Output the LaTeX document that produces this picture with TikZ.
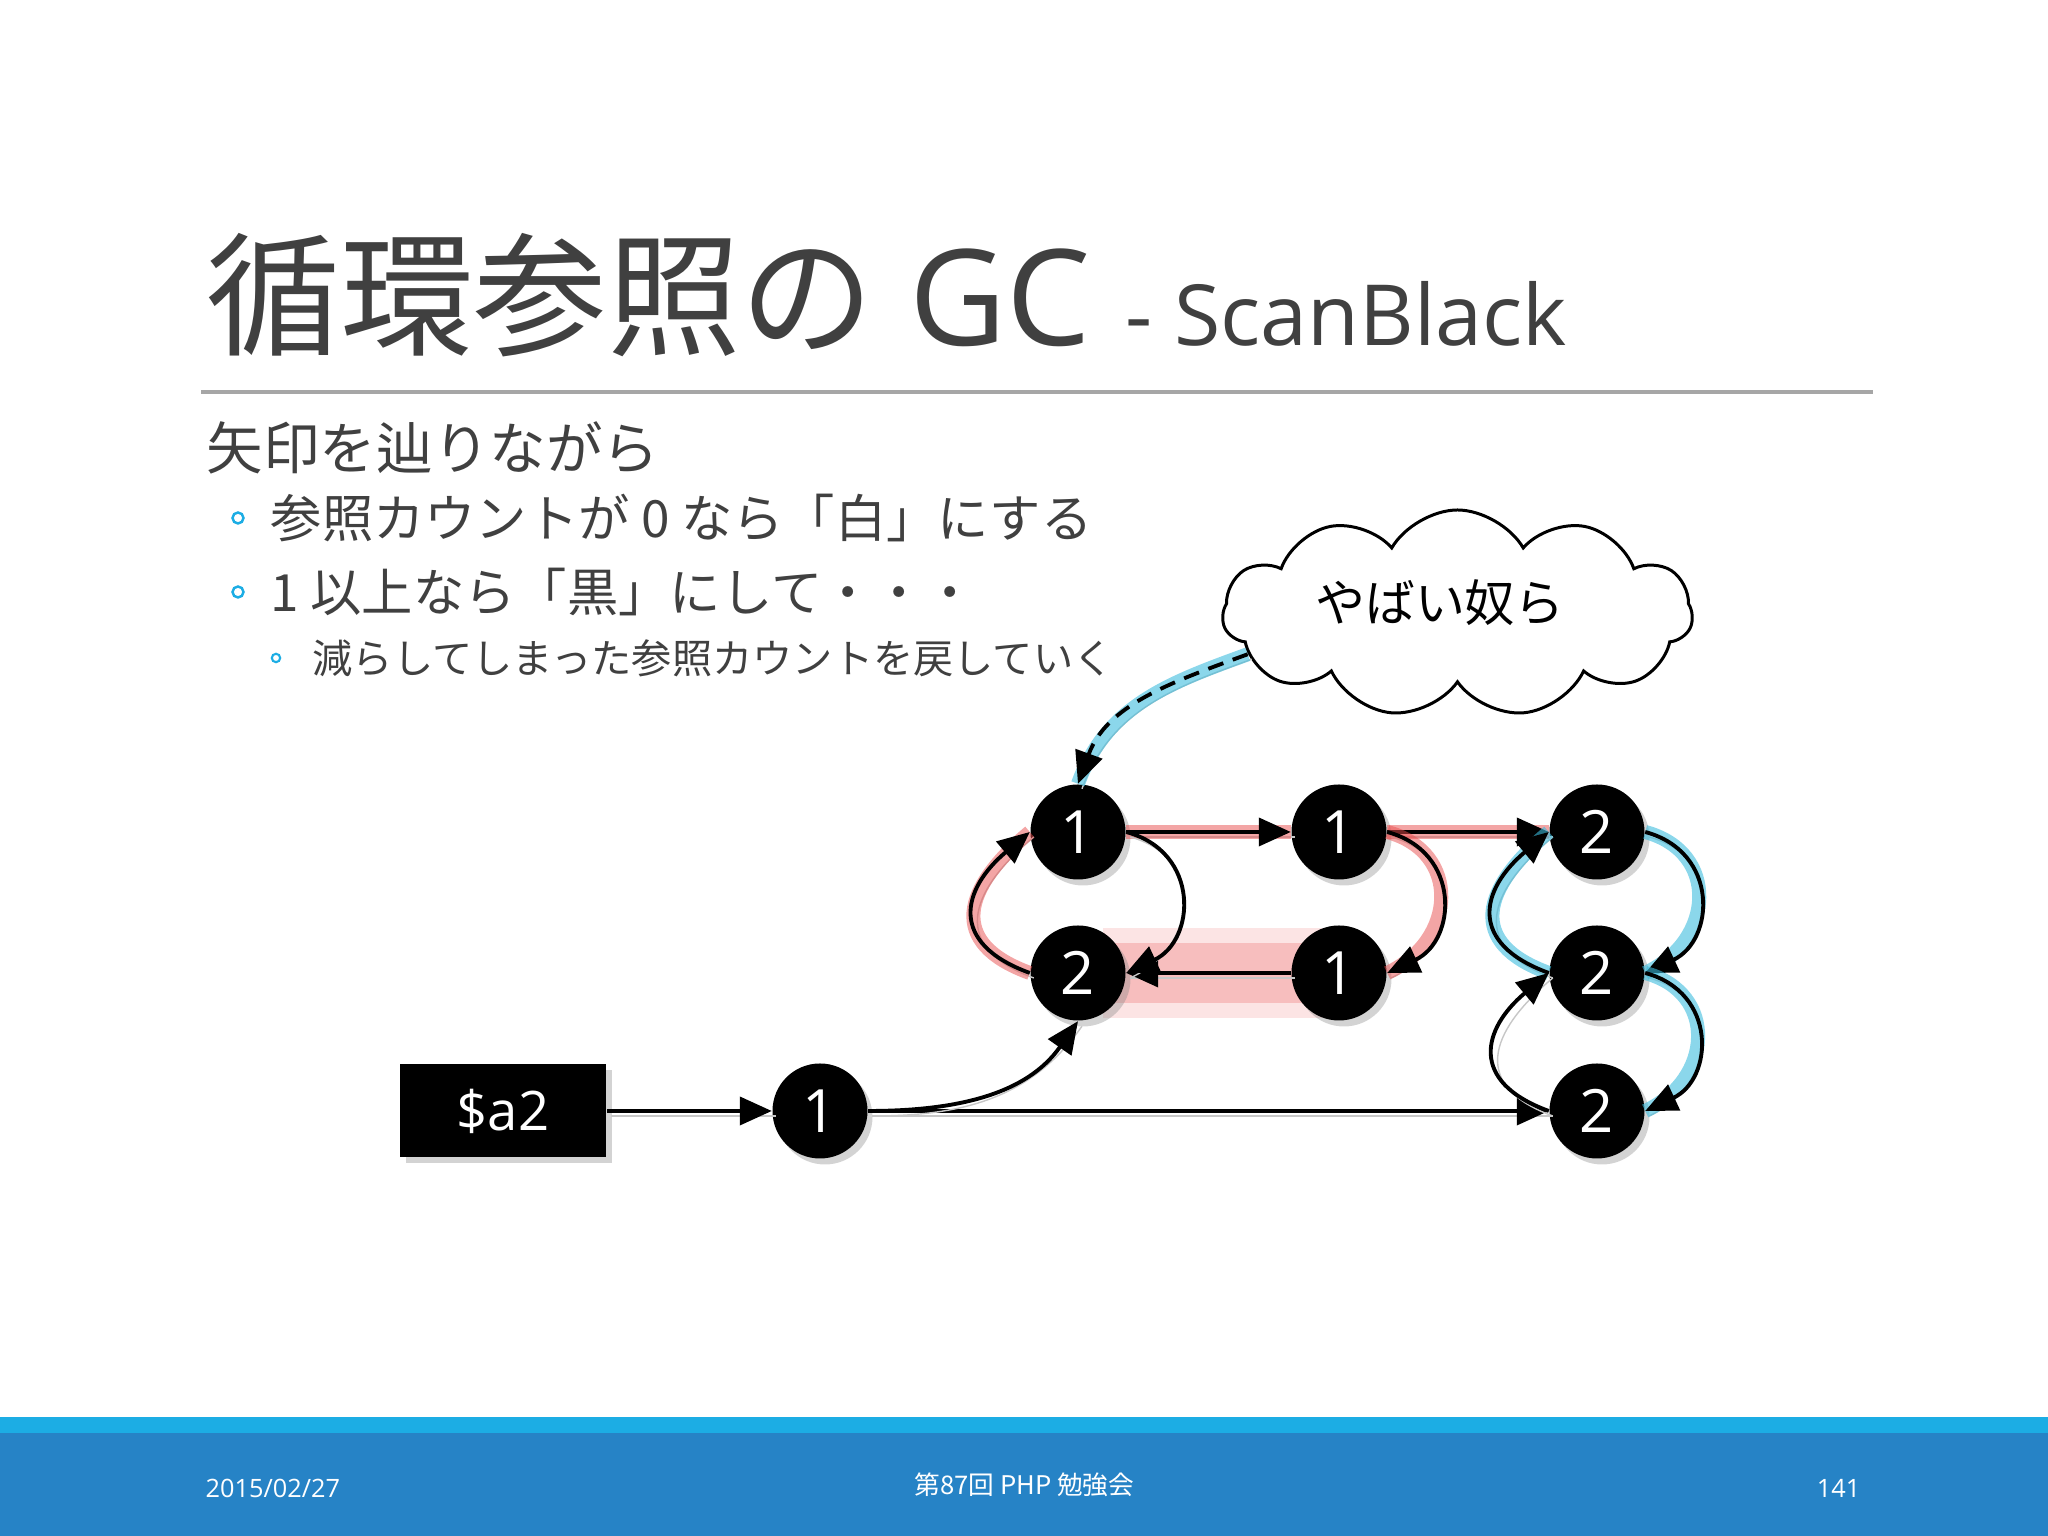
\documentclass[tikz,border=0pt]{standalone}
\usepackage{fontspec}
\setmainfont{Open Sans}
\newfontfamily\jp{Noto Sans CJK JP}
\usepackage{tikz}
\usetikzlibrary{arrows.meta}
\usetikzlibrary{backgrounds}
\usetikzlibrary{shapes.symbols}
\usetikzlibrary{shadows}
\usetikzlibrary{calc}
\definecolor{ink}{HTML}{404040}
\definecolor{accent}{HTML}{1CADE4}
\definecolor{band}{HTML}{2683C6}
\definecolor{glowred}{HTML}{E84C4C}
\definecolor{glowcyan}{HTML}{3DBCDD}
\tikzset{obj/.style={circle, fill=black, minimum size=9.5mm, inner sep=0pt, text=white, font=\fontsize{17}{17}\selectfont, drop shadow={shadow xshift=.5mm, shadow yshift=-.6mm, opacity=.35}}}
\tikzset{var/.style={fill=black, minimum width=20.6mm, minimum height=9.3mm, inner sep=0pt, text=white, font=\fontsize{15.5}{15.5}\selectfont, drop shadow={shadow xshift=.6mm, shadow yshift=-.6mm, opacity=.35}}}
\tikzset{ref/.style={line width=1.1pt, preaction={draw=black!22, solid, arrows=-, transform canvas={shift={(.4mm,-.5mm)}}}}}
\tikzset{redglow/.style={preaction={draw=glowred, solid, line width=4pt, opacity=.5, arrows=-}}}
\tikzset{cyanglow/.style={preaction={draw=glowcyan, solid, line width=4pt, opacity=.6, arrows=-}}}
\tikzset{head/.style={font=\jp\fontsize{16.1}{16.1}\selectfont, text=ink, anchor=west, inner sep=0pt}}
\tikzset{l/.style={font=\jp\fontsize{14.6}{14.6}\selectfont, text=ink, anchor=west, inner sep=0pt}}
\tikzset{m/.style={font=\jp\fontsize{11.45}{11.45}\selectfont, text=ink, anchor=west, inner sep=0pt}}
\tikzset{foot/.style={text=white, inner sep=0pt, font=\fontsize{7.2}{7.2}\selectfont}}

\begin{document}
\begin{tikzpicture}[>={Triangle[length=3.2mm,width=2.8mm]}]
\useasboundingbox (0,0) rectangle (20.48,15.36);
% footer
\fill[band] (0,0) rectangle (20.48,1.04);
\fill[accent] (0,1.03) rectangle (20.48,1.19);
\node[foot, anchor=west] (date) at (2.05,.48) {2015/02/27};
\node[foot, font=\jp\fontsize{7.3}{7.3}\selectfont] (event) at (10.245,.51) {第87回 PHP 勉強会};
\node[foot, anchor=east] (page) at (18.61,.48) {141};
% title
\node[anchor=base west, inner sep=0pt, text=ink, font=\fontsize{38}{38}\selectfont] (title) at (2.06,11.90)
  {{\jp 循環参照の} GC {\fontsize{24}{24}\selectfont - ScanBlack}};
\draw[black!35, line width=1pt] (2.01,11.44) -- (18.73,11.44);
% text
\node[head] (intro) at (2.06,10.88) {矢印を辿りながら};
\draw[accent, line width=.7pt] (2.38,10.18) circle (.055);
\node[l] (white) at (2.70,10.18) {参照カウントが 0 なら「白」にする};
\draw[accent, line width=.7pt] (2.38,9.44) circle (.055);
\node[l] (black) at (2.70,9.44) {1 以上なら「黒」にして・・・};
\draw[accent, line width=.6pt] (2.76,8.78) circle (.042);
\node[m] (undo) at (3.12,8.78) {減らしてしまった参照カウントを戻していく};
% graph
\node[var] (a2) at (5.03,4.25) {\$a2};
\node[obj] (H) at (8.20,4.25) {1}
  edge [<-, ref] (a2);
\node[obj] (A) at (10.78,7.04) {1};
\node[obj] (B) at (13.39,7.04) {1}
  edge [<-, ref, redglow] (A);
\node[obj] (C) at (15.97,7.04) {2}
  edge [<-, ref, redglow] (B);
\node[obj] (D) at (10.78,5.63) {2};
\node[obj] (E) at (13.39,5.63) {1}
  edge [->, ref] (D);
\node[obj] (F) at (15.97,5.63) {2};
\node[obj] (G) at (15.97,4.25) {2}
  edge [<-, ref] (H);
\begin{scope}[on background layer]
  \fill[glowred, opacity=.15] ($(D.center)+(.25,-.45)$) rectangle ($(E.center)+(-.15,.45)$);
  \fill[glowred, opacity=.25] ($(D.center)+(.25,-.3)$) rectangle ($(E.center)+(-.15,.3)$);
\end{scope}
\draw[->, ref] (H.east) to[out=0, in=-125] (D.south);
\draw[->, ref] (A.east) to[out=-15, in=25, looseness=1.4] (D.east);
\draw[->, ref, redglow] (D.west) to[out=160, in=220, looseness=1.6] (A.west);
\draw[->, ref, redglow] (B.east) to[out=-15, in=25, looseness=1.4] (E.east);
\draw[->, ref, cyanglow] (C.east) to[out=-15, in=25, looseness=1.4] (F.east);
\draw[->, ref, cyanglow] (F.west) to[out=160, in=220, looseness=1.6] (C.west);
\draw[->, ref, cyanglow] (F.east) to[out=-15, in=25, looseness=1.4] (G.east);
\draw[->, ref] (G.west) to[out=160, in=220, looseness=1.6] (F.west);
% cloud
\node[cloud, cloud puffs=11, cloud puff arc=120, cloud ignores aspect, draw, fill=white, line width=.85pt,
  minimum width=4.7cm, minimum height=2.07cm, font=\jp\fontsize{14.2}{14.2}\selectfont] (yb) at (14.575,9.225)
  {\raisebox{.26cm}{やばい奴ら}\kern.35cm};
\draw[->, ref, cyanglow, dash pattern=on 1.6mm off 1mm] (yb.191) to[out=200, in=70] (A.north);
\end{tikzpicture}
\end{document}
